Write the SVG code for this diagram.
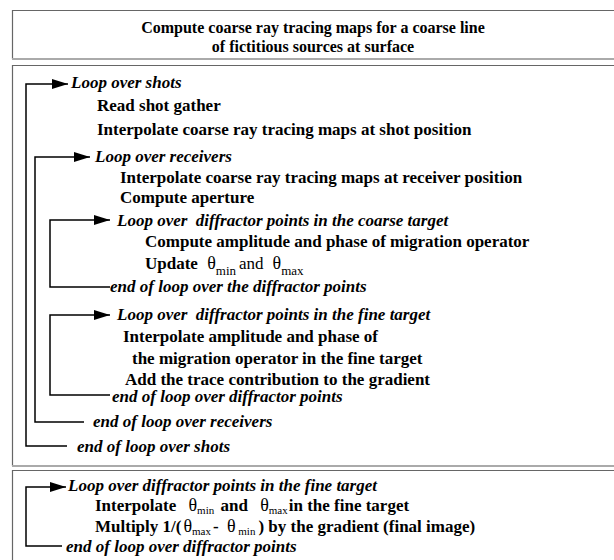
<svg xmlns="http://www.w3.org/2000/svg" width="614" height="560" viewBox="0 0 614 560">
<style>
.b{font-family:"Liberation Serif","Times New Roman",serif;font-weight:bold;font-size:17px;fill:#000}
.t{font-size:16px}
.i{font-family:"Liberation Serif","Times New Roman",serif;font-weight:bold;font-style:italic;font-size:17px;fill:#000}
.r{font-weight:normal}
.th{font-weight:normal;font-size:18px}
.th2{font-weight:normal;font-size:18px}
.sub{font-weight:normal;font-size:13px}
.sm{font-weight:normal;font-size:11px}
.top{stroke:#666;stroke-width:1.2;fill:none}
.bot{stroke:#aaa;stroke-width:2;fill:none}
.c{stroke:#000;stroke-width:1.5;fill:none}
</style>
<defs>
<marker id="ah" markerWidth="16" markerHeight="10" refX="16" refY="5" orient="auto" markerUnits="userSpaceOnUse"><path d="M0,0 L16,5 L0,10 z" fill="#000"/></marker>
</defs>
<rect width="614" height="560" fill="#fff"/>
<g id="box1">
<path class="top" d="M614 10.5 H12.5 V59"/>
<path class="bot" d="M12 59 H614"/>
<text class="b t" x="313" y="33" text-anchor="middle">Compute coarse ray tracing maps for a coarse line</text>
<text class="b t" x="313" y="52" text-anchor="middle">of fictitious sources at surface</text>
</g>
<g id="box2">
<path class="top" d="M614 65.5 H12.5 V466"/>
<path class="bot" d="M12 466 H614"/>
</g>
<g id="box3">
<path class="top" d="M614 470.5 H12.5 V560"/>
</g>
<g id="connectors">
<path class="c" d="M67 446 H26 V84 H68" marker-end="url(#ah)"/>
<path class="c" d="M84 422 H35 V157 H90" marker-end="url(#ah)"/>
<path class="c" d="M110 287 H50 V220 H110" marker-end="url(#ah)"/>
<path class="c" d="M110 395 H50 V315 H110" marker-end="url(#ah)"/>
<path class="c" d="M62 546 H26 V487 H66" marker-end="url(#ah)"/>
</g>
<g id="shots">
<text class="i" x="71" y="88">Loop over shots</text>
<text class="b" x="97" y="111">Read shot gather</text>
<text class="b" x="97" y="135">Interpolate coarse ray tracing maps at shot position</text>
<text class="i" x="77" y="452">end of loop over shots</text>
</g>
<g id="receivers">
<text class="i" x="95" y="162">Loop over receivers</text>
<text class="b" x="120" y="183">Interpolate coarse ray tracing maps at receiver position</text>
<text class="b" x="120" y="203">Compute aperture</text>
<text class="i" x="93" y="427">end of loop over receivers</text>
</g>
<g id="coarse">
<text class="i" x="117" y="226" xml:space="preserve">Loop over  diffractor points in the coarse target</text>
<text class="b" x="145" y="247">Compute amplitude and phase of migration operator</text>
<text class="b" x="145" y="269">Update <tspan class="th" dx="5">θ</tspan><tspan class="sub" dy="6">min</tspan><tspan class="r" dy="-6" dx="3">and</tspan><tspan class="th" dx="9">θ</tspan><tspan class="sub" dy="6">max</tspan></text>
<text class="i" x="110" y="292">end of loop over the diffractor points</text>
</g>
<g id="fine">
<text class="i" x="117" y="320" xml:space="preserve">Loop over  diffractor points in the fine target</text>
<text class="b" x="123" y="342">Interpolate amplitude and phase of</text>
<text class="b" x="132" y="364">the migration operator in the fine target</text>
<text class="b" x="125" y="385">Add the trace contribution to the gradient</text>
<text class="i" x="112" y="402">end of loop over diffractor points</text>
</g>
<g id="final">
<text class="i" x="68" y="491">Loop over diffractor points in the fine target</text>
<text class="b" x="95" y="511">Interpolate <tspan class="th2" dx="8">θ</tspan><tspan class="sm" dy="3">min</tspan><tspan dy="-3" dx="2"> and </tspan><tspan class="th2" dx="8">θ</tspan><tspan class="sm" dy="3">max</tspan><tspan dy="-3" dx="1">in the fine target</tspan></text>
<text class="b" x="95" y="532">Multiply 1/(<tspan class="th2" dx="2">θ</tspan><tspan class="sm" dy="3">max</tspan><tspan dy="-3" dx="2">- </tspan><tspan class="th2" dx="4">θ</tspan><tspan class="sm" dy="3"> min</tspan><tspan dy="-3" dx="3">) by the gradient (final image)</tspan></text>
<text class="i" x="66" y="552">end of loop over diffractor points</text>
</g>
</svg>
